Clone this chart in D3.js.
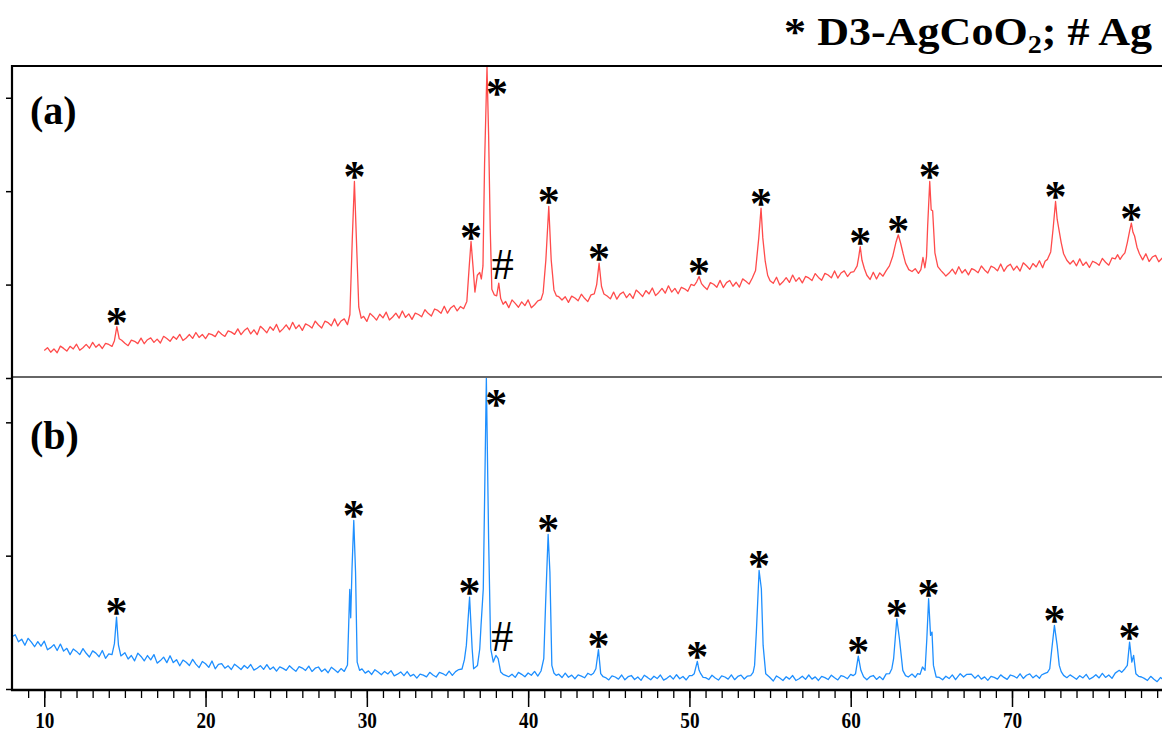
<!DOCTYPE html>
<html>
<head>
<meta charset="utf-8">
<script src="https://cdn.jsdelivr.net/npm/d3@7"></script>
<style>
html,body{margin:0;padding:0;background:#fff;}
svg{display:block;}
</style>
</head>
<body>
<svg id="chart" width="1162" height="733"></svg>
<script>
// ---------- DATA (2θ in degrees, intensity in counts) ----------
const patternA = [
[10.0,295],[10.2,324],[10.4,276],[10.6,311],[10.8,270],[11.0,341],[11.2,317],[11.4,288],[11.6,339],[11.8,311],
[12.0,362],[12.2,297],[12.4,324],[12.6,360],[12.8,319],[13.0,382],[13.2,329],[13.4,361],[13.6,316],[13.8,371],
[14.0,359],[14.2,338],[14.35,400],[14.5,550],[14.65,420],[14.8,404],[15.0,371],[15.2,346],[15.4,406],[15.6,393],
[15.8,368],[16.0,427],[16.2,367],[16.4,410],[16.6,429],[16.8,381],[17.0,416],[17.2,375],[17.4,446],[17.6,422],
[17.8,393],[18.0,444],[18.2,415],[18.4,467],[18.6,402],[18.8,429],[19.0,465],[19.2,424],[19.4,487],[19.6,434],
[19.8,466],[20.0,421],[20.2,476],[20.4,464],[20.6,443],[20.8,502],[21.0,469],[21.2,445],[21.4,504],[21.6,491],
[21.8,467],[22.0,526],[22.2,465],[22.4,508],[22.6,535],[22.8,473],[23.0,516],[23.2,464],[23.4,553],[23.6,521],
[23.8,484],[24.0,548],[24.2,511],[24.4,574],[24.6,492],[24.8,526],[25.0,569],[25.2,517],[25.4,596],[25.6,529],
[25.8,567],[26.0,510],[26.2,579],[26.4,562],[26.6,535],[26.8,609],[27.0,567],[27.2,535],[27.4,608],[27.6,592],
[27.8,560],[28.0,633],[28.2,557],[28.4,610],[28.6,633],[28.8,571],[28.95,680],[29.1,1500],[29.23,2104],[29.35,1500],
[29.5,760],[29.65,640],[29.8,660],[30.0,606],[30.2,692],[30.4,659],[30.6,620],[30.8,682],[31.0,643],[31.2,705],
[31.4,621],[31.6,653],[31.8,694],[32.0,641],[32.2,717],[32.4,649],[32.6,686],[32.8,628],[33.0,695],[33.2,680],
[33.4,655],[33.6,731],[33.8,692],[34.0,663],[34.2,739],[34.4,723],[34.6,693],[34.8,768],[35.0,694],[35.2,750],
[35.4,776],[35.6,718],[35.8,765],[36.0,742],[36.2,820],[36.35,1200],[36.46,1461],[36.58,1200],[36.7,920],[36.85,1100],
[37.0,1130],[37.1,1060],[37.2,1200],[37.3,2300],[37.45,3330],[37.55,2600],[37.65,1600],[37.75,950],[37.9,890],[38.05,880],
[38.18,1015],[38.3,850],[38.45,790],[38.6,820],[38.8,753],[39.0,836],[39.2,799],[39.4,757],[39.6,815],[39.8,775],
[40.0,836],[40.2,752],[40.4,784],[40.6,826],[40.8,840],[40.93,911],[41.1,1265],[41.28,1836],[41.43,1265],[41.6,943],
[41.75,880],[41.9,870],[42.1,835],[42.3,870],[42.5,810],[42.7,876],[42.9,856],[43.1,827],[43.3,897],[43.5,853],
[43.7,818],[43.9,890],[44.1,900],[44.25,1000],[44.4,1229],[44.55,980],[44.7,900],[44.9,878],[45.1,847],[45.3,920],
[45.5,844],[45.7,898],[45.9,921],[46.1,860],[46.3,903],[46.5,852],[46.7,941],[46.9,909],[47.1,873],[47.3,936],
[47.5,900],[47.7,964],[47.9,882],[48.1,916],[48.3,959],[48.5,908],[48.7,987],[48.9,920],[49.1,959],[49.3,902],
[49.5,971],[49.7,955],[49.9,928],[50.1,1002],[50.3,990],[50.45,1030],[50.6,1086],[50.75,1010],[50.9,980],[51.1,948],
[51.3,1021],[51.5,1004],[51.7,972],[51.9,1045],[52.1,968],[52.3,1021],[52.5,1044],[52.7,982],[52.9,1025],[53.1,973],
[53.3,1061],[53.5,1035],[53.7,1005],[53.9,1070],[54.1,1150],[54.3,1500],[54.44,1818],[54.55,1500],[54.7,1250],[54.85,1100],
[55.0,1040],[55.2,1014],[55.4,1078],[55.6,996],[55.8,1030],[56.0,1074],[56.2,1023],[56.4,1102],[56.6,1035],[56.8,1074],
[57.0,1018],[57.2,1087],[57.4,1071],[57.6,1044],[57.8,1118],[58.0,1077],[58.2,1046],[58.4,1120],[58.6,1103],[58.8,1072],
[59.0,1146],[59.2,1070],[59.4,1124],[59.6,1147],[59.8,1086],[60.0,1130],[60.2,1140],[60.4,1200],[60.5,1300],[60.59,1407],
[60.7,1260],[60.85,1170],[61.0,1100],[61.2,1055],[61.4,1132],[61.6,1060],[61.8,1125],[62.0,1090],[62.2,1150],[62.4,1200],
[62.6,1300],[62.8,1450],[62.95,1533],[63.1,1440],[63.25,1330],[63.4,1230],[63.6,1160],[63.8,1140],[64.0,1170],[64.2,1120],
[64.35,1160],[64.48,1290],[64.6,1180],[64.7,1300],[64.77,1622],[64.9,2104],[64.99,1800],[65.08,1790],[65.22,1340],[65.4,1193],
[65.6,1150],[65.75,1122],[65.9,1091],[66.1,1123],[66.3,1166],[66.5,1113],[66.7,1191],[66.9,1124],[67.1,1161],[67.3,1104],
[67.5,1171],[67.7,1154],[67.9,1127],[68.1,1199],[68.3,1157],[68.5,1124],[68.7,1197],[68.9,1180],[69.1,1147],[69.3,1220],
[69.5,1142],[69.7,1195],[69.9,1218],[70.1,1155],[70.3,1198],[70.5,1145],[70.7,1233],[70.9,1201],[71.1,1163],[71.3,1226],
[71.5,1189],[71.7,1255],[71.9,1180],[72.05,1250],[72.2,1270],[72.4,1350],[72.55,1600],[72.7,1890],[72.8,1700],[72.9,1600],
[73.05,1450],[73.2,1330],[73.4,1260],[73.6,1220],[73.8,1258],[74.0,1201],[74.2,1275],[74.4,1205],[74.6,1241],[74.8,1183],
[75.0,1250],[75.2,1233],[75.4,1206],[75.6,1280],[75.8,1239],[76.0,1208],[76.2,1285],[76.4,1275],[76.55,1320],[76.7,1270],
[76.85,1310],[77.0,1340],[77.15,1450],[77.3,1580],[77.4,1658],[77.5,1560],[77.6,1520],[77.75,1400],[77.9,1330],[78.1,1265],
[78.3,1330],[78.5,1247],[78.7,1295],[78.9,1313],[79.1,1245],[79.3,1282],[79.4,1265]
];

const patternB = [
[8.0,392],[8.2,407],[8.4,354],[8.6,374],[8.8,328],[9.0,380],[9.2,351],[9.4,317],[9.6,355],[9.8,321],
[10.0,359],[10.2,294],[10.4,310],[10.6,333],[10.8,289],[11.0,337],[11.2,284],[11.4,305],[11.6,258],[11.8,300],
[12.0,282],[12.2,258],[12.4,303],[12.6,268],[12.8,240],[13.0,286],[13.2,269],[13.4,242],[13.6,289],[13.8,230],
[14.0,263],[14.2,258],[14.35,340],[14.48,539],[14.6,330],[14.75,248],[15.0,272],[15.2,225],[15.4,251],[15.6,211],
[15.8,269],[16.0,244],[16.2,211],[16.4,251],[16.6,218],[16.8,258],[17.0,194],[17.2,213],[17.4,239],[17.6,198],
[17.8,249],[18.0,198],[18.2,220],[18.4,174],[18.6,217],[18.8,200],[19.0,176],[19.2,222],[19.4,187],[19.6,160],
[19.8,206],[20.0,189],[20.2,162],[20.4,210],[20.6,151],[20.8,185],[21.0,190],[21.2,156],[21.4,174],[21.6,146],
[21.8,186],[22.0,167],[22.2,146],[22.4,176],[22.6,155],[22.8,184],[23.0,142],[23.2,156],[23.4,175],[23.6,147],
[23.8,183],[24.0,147],[24.2,165],[24.4,134],[24.6,166],[24.8,155],[25.0,140],[25.2,174],[25.4,152],[25.6,133],
[25.8,168],[26.0,157],[26.2,139],[26.4,172],[26.6,131],[26.8,156],[27.0,165],[27.2,131],[27.4,150],[27.6,122],
[27.8,163],[28.0,144],[28.2,124],[28.4,153],[28.6,132],[28.8,180],[28.94,747],[29.0,534],[29.08,900],[29.19,1264],
[29.3,876],[29.4,202],[29.55,140],[29.7,151],[29.9,119],[30.1,136],[30.3,109],[30.5,145],[30.7,127],[30.9,107],
[31.1,132],[31.3,113],[31.5,138],[31.7,99],[31.9,111],[32.1,128],[32.3,100],[32.5,131],[32.7,97],[32.9,110],
[33.1,82],[33.3,112],[33.5,104],[33.7,91],[33.9,125],[34.1,105],[34.3,90],[34.5,124],[34.7,116],[34.9,101],
[35.1,134],[35.3,102],[35.5,130],[35.7,146],[35.9,150],[36.05,220],[36.17,327],[36.37,689],[36.53,302],[36.62,152],
[36.75,165],[36.86,177],[37.0,300],[37.08,477],[37.22,752],[37.41,2330],[37.55,1126],[37.68,302],[37.84,202],[38.0,252],
[38.14,227],[38.3,127],[38.45,110],[38.64,100],[38.8,92],[39.0,111],[39.2,87],[39.4,125],[39.6,110],[39.8,92],
[40.0,120],[40.2,103],[40.4,132],[40.6,97],[40.8,135],[40.97,227],[41.08,627],[41.24,1159],[41.35,877],[41.47,177],
[41.6,120],[41.74,102],[41.9,111],[42.1,86],[42.3,119],[42.5,88],[42.7,104],[42.9,77],[43.1,106],[43.3,97],
[43.5,84],[43.7,118],[43.9,105],[44.05,118],[44.2,152],[44.36,295],[44.5,115],[44.65,92],[44.8,86],[45.0,68],
[45.2,99],[45.4,90],[45.6,74],[45.8,105],[46.0,69],[46.2,92],[46.4,101],[46.6,71],[46.8,90],[47.0,65],
[47.2,103],[47.4,87],[47.6,69],[47.8,96],[48.0,78],[48.2,105],[48.4,67],[48.6,80],[48.8,99],[49.0,74],
[49.2,107],[49.4,77],[49.6,94],[49.8,68],[50.0,101],[50.15,100],[50.3,115],[50.49,207],[50.6,140],[50.7,115],
[50.85,88],[51.0,85],[51.2,71],[51.4,103],[51.6,83],[51.8,67],[52.0,99],[52.2,90],[52.4,74],[52.6,106],
[52.8,70],[53.0,94],[53.2,104],[53.4,75],[53.6,97],[53.8,100],[53.95,125],[54.04,177],[54.15,427],[54.32,889],
[54.46,752],[54.57,327],[54.73,115],[54.96,90],[55.2,60],[55.4,98],[55.6,82],[55.8,64],[56.0,92],[56.2,74],
[56.4,101],[56.6,64],[56.8,77],[57.0,96],[57.2,72],[57.4,105],[57.6,74],[57.8,91],[58.0,64],[58.2,94],
[58.4,85],[58.6,71],[58.8,104],[59.0,84],[59.2,68],[59.4,101],[59.6,92],[59.8,77],[60.0,110],[60.15,100],
[60.3,115],[60.47,247],[60.63,140],[60.8,92],[61.0,69],[61.2,92],[61.4,101],[61.6,72],[61.8,93],[62.0,70],
[62.2,113],[62.4,115],[62.55,152],[62.66,227],[62.86,527],[63.02,377],[63.23,140],[63.4,100],[63.57,90],[63.8,112],
[64.0,88],[64.15,115],[64.3,110],[64.45,165],[64.61,140],[64.72,377],[64.83,677],[64.95,402],[65.04,427],[65.13,177],
[65.3,90],[65.5,87],[65.7,69],[65.9,96],[66.1,78],[66.3,106],[66.5,70],[66.79,115],[67.0,90],[67.2,110],
[67.48,112],[67.7,81],[67.9,104],[68.1,74],[68.3,91],[68.5,65],[68.7,95],[68.9,87],[69.1,74],[69.3,106],
[69.5,87],[69.7,72],[69.9,105],[70.1,97],[70.3,82],[70.5,114],[70.7,79],[70.9,103],[71.1,113],[71.3,84],
[71.5,104],[71.7,80],[71.83,105],[72.0,115],[72.2,125],[72.34,152],[72.47,302],[72.63,477],[72.8,327],[72.93,177],
[73.05,130],[73.2,102],[73.4,85],[73.6,106],[73.8,90],[74.0,73],[74.2,100],[74.4,83],[74.6,110],[74.8,73],
[75.0,87],[75.2,107],[75.4,83],[75.6,117],[75.8,87],[76.0,105],[76.2,80],[76.4,119],[76.65,140],[76.8,125],
[77.0,152],[77.15,177],[77.29,352],[77.43,202],[77.54,252],[77.68,115],[77.85,95],[78.03,90],[78.2,80],[78.4,64],
[78.6,95],[78.8,73],[79.0,55],[79.2,86],[79.4,70]
];

// peak markers: "*" = D3-AgCoO2, "#" = Ag
const starPeaksA = [14.5, 29.23, 36.46, 37.45, 41.28, 44.4, 50.6, 54.44, 60.59, 62.95, 64.9, 72.7, 77.4];
const starPeaksB = [14.48, 29.19, 36.37, 37.41, 41.24, 44.36, 50.49, 54.32, 60.47, 62.86, 64.83, 72.63, 77.29];
const agPeaksA = [38.18];
const agPeaksB = [38.14];

const xTickMajor = [10, 20, 30, 40, 50, 60, 70];
const xTickMinor = d3.range(9, 80, 1);
const yTicksA = [0, 1000, 2000, 3000];
const yTicksB = [0, 1000, 2000];
const panelLabels = ["(a)", "(b)"];
const titleParts = ["* D3-AgCoO", "2", "; # Ag"];

// ---------- LAYOUT ----------
const left = 12, right = 1162;
const topA = 66, midY = 377, botB = 689;
const svg = d3.select("#chart");
const serif = "'Liberation Serif','Times New Roman',serif";

const x = d3.scaleLinear().domain([8, 79.3]).range([left, right]);
const yA = d3.scaleLinear().domain([0, 3340]).range([378, topA]);
const yB = d3.scaleLinear().domain([0, 2340]).range([botB, midY]);

const defs = svg.append("defs");
defs.append("clipPath").attr("id", "clipA").append("rect")
  .attr("x", left).attr("y", topA).attr("width", right - left).attr("height", midY - topA);
defs.append("clipPath").attr("id", "clipB").append("rect")
  .attr("x", left).attr("y", midY).attr("width", right - left).attr("height", botB - midY + 1);

// curves
const lineA = d3.line().x(d => x(d[0])).y(d => yA(d[1]));
const lineB = d3.line().x(d => x(d[0])).y(d => yB(d[1]));
svg.append("path").datum(patternA).attr("d", lineA).attr("clip-path", "url(#clipA)")
  .attr("fill", "none").attr("stroke", "#ff4b4b").attr("stroke-width", 1.3).attr("stroke-linejoin", "round");
svg.append("path").datum(patternB).attr("d", lineB).attr("clip-path", "url(#clipB)")
  .attr("fill", "none").attr("stroke", "#1e8fff").attr("stroke-width", 1.3).attr("stroke-linejoin", "round");

// frame lines
svg.append("line").attr("x1", left).attr("x2", right).attr("y1", topA).attr("y2", topA)
  .attr("stroke", "#000").attr("stroke-width", 2);
svg.append("line").attr("x1", left).attr("x2", right).attr("y1", midY).attr("y2", midY)
  .attr("stroke", "#666").attr("stroke-width", 2);

// left axis with ticks (no labels)
const axA = svg.append("g").attr("transform", `translate(${left},0)`)
  .call(d3.axisLeft(yA).tickValues(yTicksA).tickSize(6).tickFormat(""));
const axB = svg.append("g").attr("transform", `translate(${left},0)`)
  .call(d3.axisLeft(yB).tickValues(yTicksB).tickSize(6).tickFormat(""));
[axA, axB].forEach(g => {
  g.select(".domain").remove();
  g.selectAll("line").attr("stroke", "#000").attr("stroke-width", 1.5);
});
svg.append("line").attr("x1", left).attr("x2", left).attr("y1", topA - 1).attr("y2", botB + 2)
  .attr("stroke", "#000").attr("stroke-width", 2.2);

// bottom axis
const bx = svg.append("g").attr("transform", `translate(0,${botB + 1})`);
bx.call(d3.axisBottom(x).tickValues(xTickMinor).tickSize(8).tickFormat(""));
bx.select(".domain").remove();
bx.selectAll("line").attr("stroke", "#000").attr("stroke-width", 1.3);
const bxMaj = svg.append("g").attr("transform", `translate(0,${botB + 1})`);
bxMaj.call(d3.axisBottom(x).tickValues(xTickMajor).tickSize(17).tickFormat(d3.format("d")));
bxMaj.select(".domain").remove();
bxMaj.selectAll("line").attr("stroke", "#000").attr("stroke-width", 1.5);
bxMaj.selectAll("text").attr("fill", "#000").attr("font-family", serif)
  .attr("font-weight", "bold").attr("font-size", 24).attr("y", 38).attr("dy", 0)
  .attr("transform", "scale(0.8,1)");
svg.append("line").attr("x1", left - 1).attr("x2", right).attr("y1", botB + 1).attr("y2", botB + 1)
  .attr("stroke", "#000").attr("stroke-width", 2.5);

// peak markers
function localMax(data, t, w) {
  return d3.max(data.filter(d => Math.abs(d[0] - t) <= w), d => d[1]);
}
function drawStars(peaks, data, y) {
  const top = y.domain()[1];
  peaks.forEach(t => {
    const m = localMax(data, t, 0.12);
    let cx = x(t), cy = y(m) - 11;
    if (m > 0.9 * top) { cx = x(t) + 10; cy = y(top) + 21; }
    svg.append("text").attr("x", cx).attr("y", cy + 21)
      .attr("text-anchor", "middle").attr("font-family", serif).attr("font-weight", "bold")
      .attr("font-size", 44).attr("fill", "#000").text("*");
  });
}
function drawHash(peaks, data, y) {
  peaks.forEach(t => {
    const m = localMax(data, t, 0.15);
    const cx = x(t) + 4, cy = y(m) - 19;
    svg.append("text").attr("x", cx).attr("y", cy + 15)
      .attr("text-anchor", "middle").attr("font-family", serif)
      .attr("font-size", 44).attr("fill", "#000").text("#");
  });
}
drawStars(starPeaksA, patternA, yA);
drawStars(starPeaksB, patternB, yB);
drawHash(agPeaksA, patternA, yA);
drawHash(agPeaksB, patternB, yB);

// panel labels
svg.append("text").attr("x", 30).attr("y", 124).attr("font-family", serif).attr("font-weight", "bold")
  .attr("font-size", 40).attr("fill", "#000").text(panelLabels[0]);
svg.append("text").attr("x", 30).attr("y", 449).attr("font-family", serif).attr("font-weight", "bold")
  .attr("font-size", 40).attr("fill", "#000").text(panelLabels[1]);

// title
const title = svg.append("g").attr("transform", "translate(1152,45) scale(1.13,1)")
  .append("text").attr("x", 0).attr("y", 0).attr("text-anchor", "end")
  .attr("font-family", serif).attr("font-weight", "bold").attr("font-size", 39).attr("fill", "#000");
title.append("tspan").text(titleParts[0]);
title.append("tspan").attr("font-size", 25).attr("dy", 8).text(titleParts[1]);
title.append("tspan").attr("dy", -8).text(titleParts[2]);
</script>
</body>
</html>
